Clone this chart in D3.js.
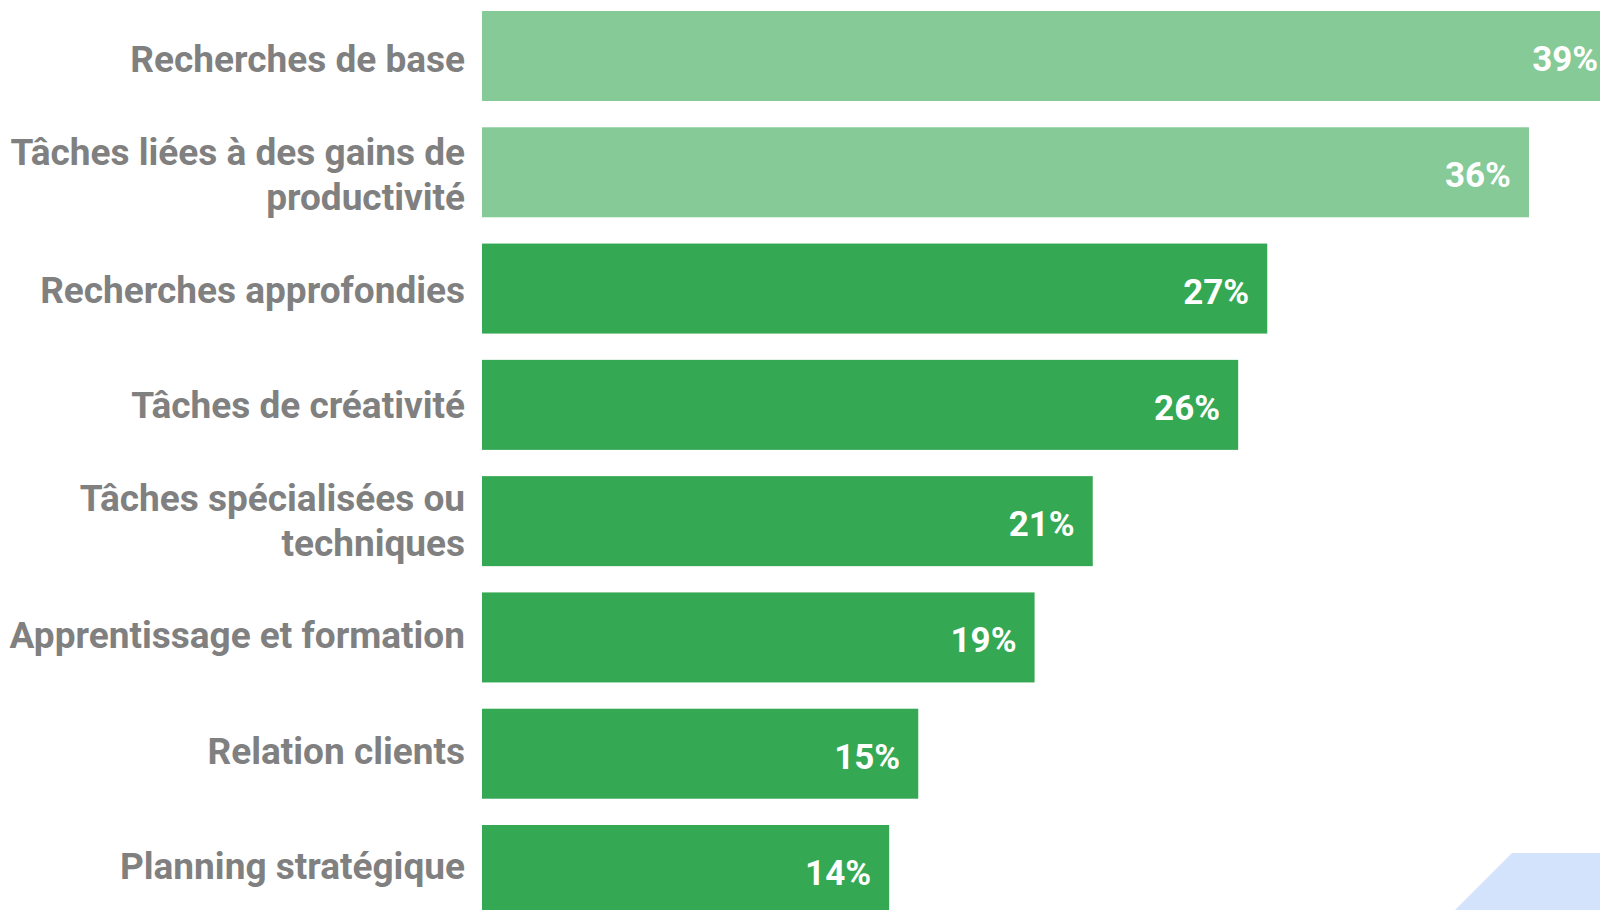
<!DOCTYPE html>
<html>
<head>
<meta charset="utf-8">
<script src="https://cdn.jsdelivr.net/npm/d3@7"></script>
<style>
  html, body { margin: 0; padding: 0; background: #ffffff; overflow: hidden; }
  svg { display: block; }
</style>
</head>
<body>
<svg id="chart" width="1600" height="910"></svg>
<script>
// Usage categories (line breaks mark wrapped labels)
const categories = [
  "Recherches de base",
  "Tâches liées à des gains de\nproductivité",
  "Recherches approfondies",
  "Tâches de créativité",
  "Tâches spécialisées ou\ntechniques",
  "Apprentissage et formation",
  "Relation clients",
  "Planning stratégique"
];
const values = [39, 36, 27, 26, 21, 19, 15, 14];
const highlighted = [true, true, false, false, false, false, false, false];

const W = 1600, H = 910;
const svg = d3.select("#chart");
const FONT = "Roboto, 'Noto Sans', sans-serif";

// decorative shape in the lower right corner
svg.append("path")
  .attr("d", `M1512,853 L${W},853 L${W},${H} L1455,${H} Z`)
  .attr("fill", "#d3e3fc");

const x = d3.scaleLinear().domain([0, 36]).range([482, 1529]);
const y = d3.scaleBand()
  .domain(categories)
  .range([11, 915])
  .paddingInner(0.226)
  .paddingOuter(0);
// label column runs on a slightly tighter rhythm than the bars
const yLabel = d3.scalePoint()
  .domain(categories)
  .range([59, 866]);

const rows = svg.append("g").selectAll("g")
  .data(categories.map((c, i) => ({ c, v: values[i], hi: highlighted[i] })))
  .join("g");

rows.append("rect")
  .attr("x", x(0))
  .attr("y", d => y(d.c))
  .attr("width", d => x(d.v) - x(0))
  .attr("height", y.bandwidth())
  .attr("fill", d => d.hi ? "#85ca97" : "#34a853");

// value labels inside bar ends
rows.append("text")
  .attr("x", d => x(d.v) - 18)
  .attr("y", d => y(d.c) + y.bandwidth() / 2 + 15)
  .attr("text-anchor", "end")
  .attr("fill", "#ffffff")
  .attr("font-family", FONT)
  .attr("font-weight", 700)
  .attr("font-size", 35)
  .text(d => d.v + "%");

// category labels, right aligned against the axis
const lineH = 45;
rows.append("text")
  .attr("text-anchor", "end")
  .attr("fill", "#808080")
  .attr("font-family", FONT)
  .attr("font-weight", 700)
  .attr("font-size", 37)
  .each(function(d) {
    const lines = d.c.split("\n");
    const cy = yLabel(d.c);
    const first = cy - (lines.length - 1) * lineH / 2 + 13;
    d3.select(this).selectAll("tspan")
      .data(lines)
      .join("tspan")
      .attr("x", 465)
      .attr("y", (l, i) => first + i * lineH)
      .text(l => l);
  });
</script>
</body>
</html>
